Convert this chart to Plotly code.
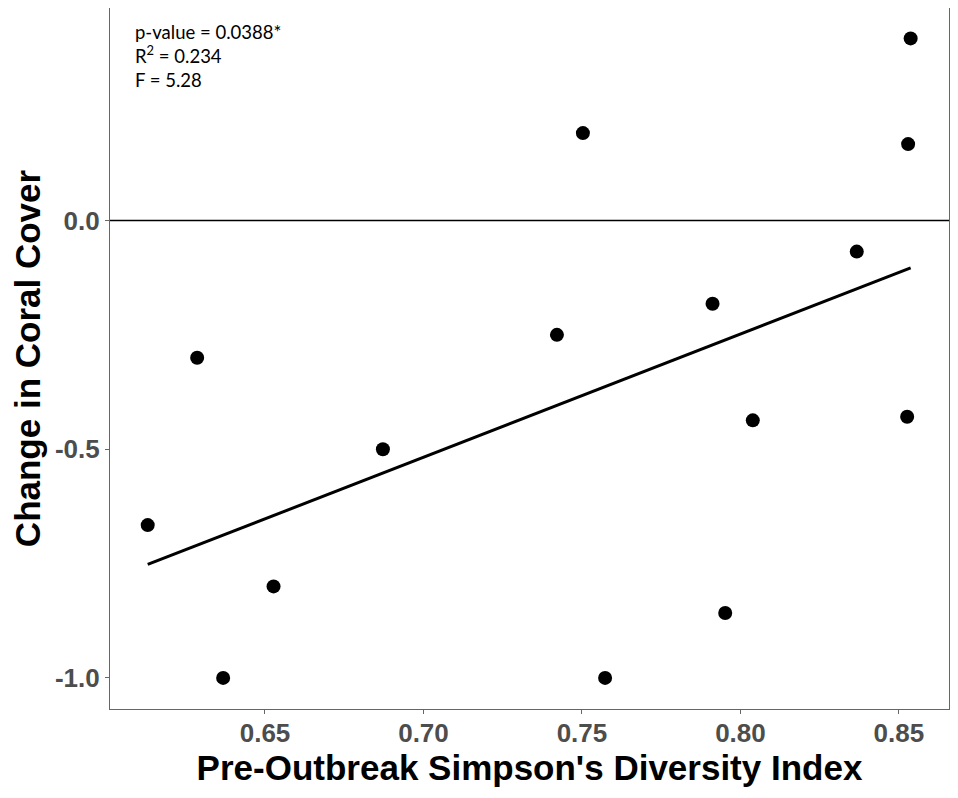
import numpy as np
import plotly.graph_objects as go

# pre-outbreak Simpson's diversity vs change in coral cover (one point per site)
diversity = [0.6130, 0.6286, 0.6368, 0.6527, 0.6872, 0.7421, 0.7503, 0.7573,
             0.7912, 0.7952, 0.8039, 0.8367, 0.8526, 0.8529, 0.8537]
coral_change = [-0.666, -0.300, -1.000, -0.800, -0.500, -0.250, 0.191, -1.000,
                -0.182, -0.858, -0.437, -0.068, -0.429, 0.167, 0.398]

x_ticks = [0.65, 0.70, 0.75, 0.80, 0.85]
y_ticks = [-1.0, -0.5, 0.0]
y_tick_text = ["-1.0", "-0.5", "0.0"]

stats_text = "p-value = 0.0388*<br>R<sup>2</sup> = 0.234<br>F = 5.28"

# linear fit through the points
slope, intercept = np.polyfit(diversity, coral_change, 1)
fit_x = np.array([min(diversity), max(diversity)])
fit_y = slope * fit_x + intercept

fig = go.Figure()
fig.add_hline(y=0, line_color="black", line_width=1.6)
fig.add_trace(go.Scatter(x=fit_x, y=fit_y, mode="lines",
                         line=dict(color="black", width=3), hoverinfo="skip"))
fig.add_trace(go.Scatter(x=diversity, y=coral_change, mode="markers",
                         marker=dict(color="black", size=14)))

tick_font = dict(family="Liberation Sans", size=26, color="#4D4D4D", weight="bold")
title_font = dict(family="Liberation Sans", size=35, color="black", weight="bold")

# page body adds 8px, so the figure is a bit smaller than the window
fig.update_layout(
    width=950, height=790,
    margin=dict(l=102, r=9, t=0, b=89),
    plot_bgcolor="white", paper_bgcolor="white",
    showlegend=False,
    annotations=[dict(
        text=stats_text, xref="paper", yref="paper", x=0.027, y=0.984,
        xanchor="left", yanchor="top", align="left", showarrow=False,
        font=dict(family="Lato", size=18.5, color="black"),
    )],
)
fig.update_xaxes(
    range=[0.6011, 0.8658], tickvals=x_ticks, tickformat=".2f",
    showgrid=False, zeroline=False, showline=True, mirror=True,
    linecolor="#666666", linewidth=1.2, ticks="outside", ticklen=4,
    tickcolor="#666666", tickfont=tick_font, ticklabelstandoff=-3,
    title=dict(text="Pre-Outbreak Simpson's Diversity Index", font=title_font, standoff=0),
)
fig.update_yaxes(
    range=[-1.068, 0.4645], tickvals=y_ticks, ticktext=y_tick_text,
    showgrid=False, zeroline=False, showline=True, mirror=True,
    linecolor="#666666", linewidth=1.2, ticks="outside", ticklen=4,
    tickcolor="#666666", tickfont=tick_font,
    title=dict(text="Change in Coral Cover", font=title_font, standoff=8),
)

fig.write_html("out.html")
